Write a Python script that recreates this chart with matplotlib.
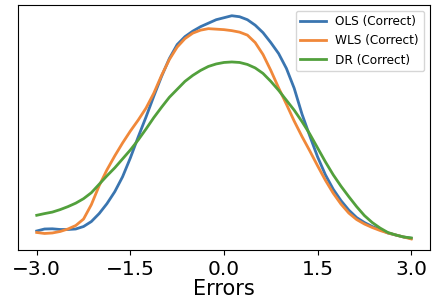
import matplotlib
matplotlib.use("Agg")
import matplotlib.pyplot as plt

x_vals = [-3.0, -2.875, -2.75, -2.625, -2.5, -2.375, -2.25, -2.125, -2.0, -1.875, -1.75, -1.625,
          -1.5, -1.375, -1.25, -1.125, -1.0, -0.875, -0.75, -0.625, -0.5, -0.375, -0.25, -0.125,
          0.0, 0.125, 0.25, 0.375, 0.5, 0.625, 0.75, 0.875, 1.0, 1.125, 1.25, 1.375,
          1.5, 1.625, 1.75, 1.875, 2.0, 2.125, 2.25, 2.375, 2.5, 2.625, 2.75, 2.875, 3.0]

ols_density = [0.037, 0.041, 0.0414, 0.040, 0.040, 0.041, 0.046, 0.056, 0.072, 0.092, 0.116, 0.146,
               0.184, 0.226, 0.266, 0.308, 0.348, 0.384, 0.412, 0.428, 0.439, 0.448, 0.455, 0.462,
               0.466, 0.470, 0.468, 0.462, 0.451, 0.436, 0.416, 0.394, 0.364, 0.324, 0.272, 0.228,
               0.186, 0.150, 0.121, 0.098, 0.079, 0.064, 0.054, 0.046, 0.040, 0.033, 0.029, 0.025, 0.0224]
wls_density = [0.034, 0.032, 0.033, 0.036, 0.041, 0.048, 0.061, 0.090, 0.128, 0.160, 0.188, 0.214,
               0.238, 0.260, 0.284, 0.314, 0.350, 0.382, 0.407, 0.424, 0.435, 0.441, 0.444, 0.443,
               0.442, 0.440, 0.437, 0.431, 0.416, 0.392, 0.360, 0.325, 0.292, 0.258, 0.227, 0.198,
               0.168, 0.139, 0.113, 0.091, 0.073, 0.060, 0.051, 0.044, 0.038, 0.033, 0.029, 0.025, 0.021]
dr_density = [0.0686, 0.072, 0.075, 0.080, 0.086, 0.093, 0.102, 0.114, 0.131, 0.148, 0.164, 0.182,
              0.200, 0.220, 0.242, 0.265, 0.286, 0.306, 0.322, 0.338, 0.350, 0.360, 0.368, 0.373,
              0.376, 0.377, 0.376, 0.372, 0.365, 0.354, 0.338, 0.320, 0.300, 0.280, 0.257, 0.232,
              0.204, 0.176, 0.150, 0.127, 0.106, 0.086, 0.068, 0.054, 0.043, 0.034, 0.029, 0.025, 0.023]

labels = ["OLS (Correct)", "WLS (Correct)", "DR (Correct)"]
colors = ["#3a75b0", "#f0883a", "#52a03c"]
xtick_vals = [-3.0, -1.5, 0.0, 1.5, 3.0]
xtick_labels = ["\u22123.0", "\u22121.5", "0.0", "1.5", "3.0"]

fig = plt.figure(figsize=(4.33, 3.05), dpi=100)
ax = fig.add_axes([0.0416, 0.180, 0.9514, 0.805])

for ys, lab, c in zip([ols_density, wls_density, dr_density], labels, colors):
    ax.plot(x_vals, ys, color=c, lw=2, label=lab, solid_joinstyle="round")

ax.set_xticks(xtick_vals)
ax.set_xticklabels(xtick_labels, fontsize=14.5)
ax.set_yticks([])
ax.set_xlabel("Errors", fontsize=15, labelpad=0)
ax.legend(loc="upper right", fontsize=8.7, handlelength=2.1)

fig.savefig("out.png", dpi=100)
